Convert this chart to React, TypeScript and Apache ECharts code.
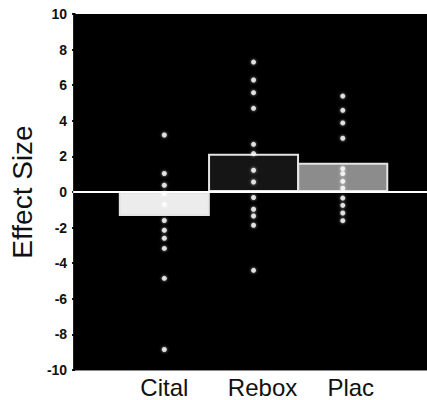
import React, { useEffect, useRef } from "react";
import * as echarts from "echarts";

const categories = ["Cital", "Rebox", "Plac"];
const categoryPositions = [1, 2, 3];
const barValues = [-1.35, 2.15, 1.65];
const citalPoints = [3.2, 1.04, 0.38, -0.09, -0.71, -1.6, -2.15, -2.6, -3.17, -4.85, -8.85];
const reboxPoints = [7.3, 6.29, 5.58, 4.7, 2.68, 2.16, 1.22, 0.56, -0.31, -0.97, -1.35, -1.87, -4.4];
const placPoints = [5.39, 4.59, 3.88, 3.02, 1.31, 1.03, 0.6, 0.21, -0.34, -0.75, -1.18, -1.61];
const yTicks = [-10, -8, -6, -4, -2, 0, 2, 4, 6, 8, 10];

const barColors = ["#ececec", "#151515", "#8c8c8c"];
const labelShift = [0, 18, 16];

export default function App() {
  const ref = useRef<HTMLDivElement>(null);
  useEffect(() => {
    if (!ref.current) return;
    const chart = echarts.init(ref.current, undefined, { renderer: "svg" });
    const groups = [citalPoints, reboxPoints, placPoints];
    const scatterData: number[][] = [];
    groups.forEach((g, i) => g.forEach((v) => scatterData.push([categoryPositions[i], v])));
    const rich: Record<string, any> = {};
    categories.forEach((_, i) => {
      rich["c" + i] = {
        fontFamily: "Liberation Sans, Arial, sans-serif",
        fontSize: 24,
        color: "#111",
        padding: [0, 0, 0, labelShift[i]],
      };
    });
    chart.setOption({
      animation: false,
      backgroundColor: "#fff",
      grid: {
        left: 70,
        right: 0,
        top: 14,
        bottom: 30,
        show: true,
        backgroundColor: "#000",
        borderWidth: 0,
      },
      xAxis: {
        type: "value",
        min: -0.022,
        max: 3.944,
        splitLine: { show: false },
        axisLine: { show: true, onZero: false, lineStyle: { color: "#888", width: 1 } },
        axisTick: { show: false },
        axisLabel: {
          customValues: categoryPositions,
          margin: 5,
          formatter: (v: number) => {
            const i = categoryPositions.indexOf(v);
            return i >= 0 ? `{c${i}|${categories[i]}}` : "";
          },
          rich,
        },
      },
      yAxis: {
        type: "value",
        min: -10,
        max: 10,
        interval: 2,
        name: "Effect Size",
        nameLocation: "middle",
        nameGap: 36,
        nameTextStyle: {
          fontFamily: "Liberation Sans, Arial, sans-serif",
          fontSize: 28,
          color: "#111",
        },
        splitLine: { show: false },
        axisLine: { show: true, lineStyle: { color: "#000", width: 1 } },
        axisTick: { show: true, length: 3, lineStyle: { color: "#000", width: 2 } },
        axisLabel: {
          customValues: yTicks,
          margin: 6,
          fontFamily: "Liberation Sans, Arial, sans-serif",
          fontWeight: "bold",
          fontSize: 14,
          color: "#111",
        },
      },
      series: [
        {
          type: "bar",
          data: barValues.map((v, i) => [categoryPositions[i], v]),
          barWidth: 91,
          itemStyle: {
            color: (p: any) => barColors[p.dataIndex],
            borderColor: "#e4e4e4",
            borderWidth: 2,
          },
          markLine: {
            silent: true,
            symbol: "none",
            label: { show: false },
            lineStyle: { color: "#fff", width: 2, type: "solid" },
            data: [{ yAxis: 0 }],
          },
          z: 2,
        },
        {
          type: "scatter",
          data: scatterData,
          symbol: "circle",
          symbolSize: 5,
          itemStyle: { color: "#fff", shadowBlur: 3, shadowColor: "rgba(255,255,255,0.8)" },
          z: 3,
        },
      ],
    });
    return () => chart.dispose();
  }, []);
  return <div ref={ref} style={{ width: 427, height: 400, position: "absolute", left: 0, top: 0 }} />;
}
